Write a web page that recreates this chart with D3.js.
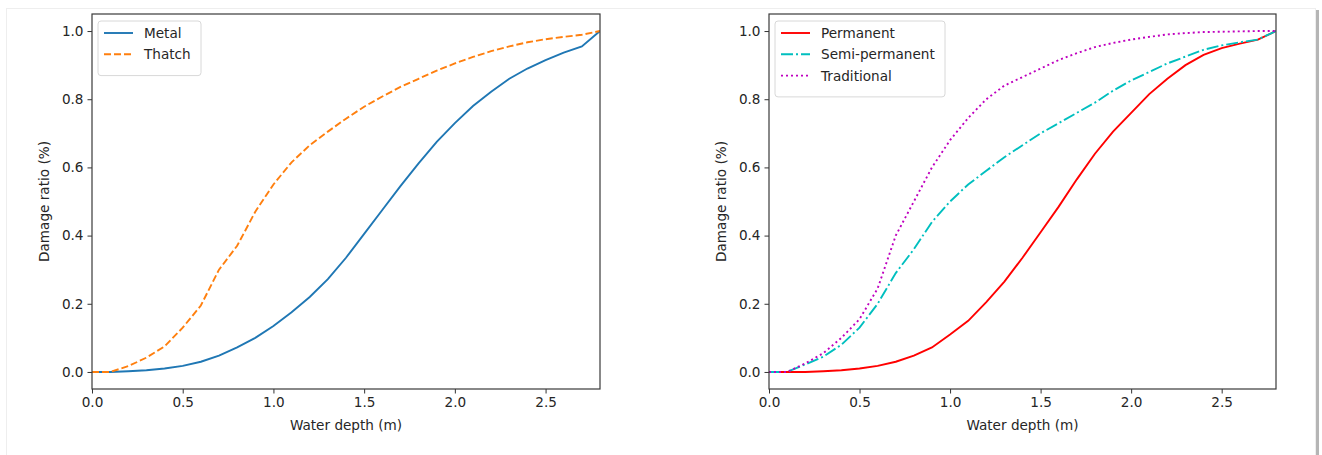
<!DOCTYPE html>
<html>
<head>
<meta charset="utf-8">
<script src="https://cdn.jsdelivr.net/npm/d3@7"></script>
<style>
  body { margin: 0; background: #fff; }
  text { font-family: "DejaVu Sans", sans-serif; fill: #262626; }
</style>
</head>
<body>
<svg id="chart" width="1322" height="455"></svg>
<script>
// water depth (m)
const depth = [0, 0.1, 0.2, 0.3, 0.4, 0.5, 0.6, 0.7, 0.8, 0.9, 1.0, 1.1, 1.2, 1.3, 1.4,
  1.5, 1.6, 1.7, 1.8, 1.9, 2.0, 2.1, 2.2, 2.3, 2.4, 2.5, 2.6, 2.7, 2.8];

// left panel
const metal = [0, 0, 0.002, 0.005, 0.01, 0.018, 0.03, 0.048, 0.072, 0.1, 0.135, 0.175, 0.22, 0.272, 0.335,
  0.405, 0.475, 0.545, 0.612, 0.675, 0.73, 0.78, 0.822, 0.86, 0.89, 0.915, 0.937, 0.955, 1.0];
const thatch = [0, 0, 0.017, 0.042, 0.075, 0.13, 0.195, 0.3, 0.37, 0.47, 0.55, 0.615, 0.665, 0.705, 0.743,
  0.778, 0.808, 0.836, 0.86, 0.884, 0.905, 0.924, 0.941, 0.955, 0.967, 0.976, 0.983, 0.989, 1.0];

// right panel
const permanent = [0, 0, 0, 0.002, 0.005, 0.01, 0.018, 0.03, 0.048, 0.072, 0.11, 0.15, 0.205, 0.265, 0.335,
  0.41, 0.485, 0.565, 0.64, 0.705, 0.76, 0.815, 0.86, 0.9, 0.93, 0.95, 0.963, 0.975, 1.0];
const semiPermanent = [0, 0, 0.022, 0.045, 0.08, 0.13, 0.2, 0.29, 0.36, 0.44, 0.5, 0.55, 0.59, 0.63, 0.665,
  0.7, 0.73, 0.76, 0.79, 0.825, 0.855, 0.88, 0.905, 0.925, 0.945, 0.958, 0.967, 0.975, 1.0];
const traditional = [0, 0, 0.025, 0.055, 0.1, 0.155, 0.245, 0.4, 0.5, 0.6, 0.68, 0.745, 0.8, 0.84, 0.865,
  0.89, 0.915, 0.935, 0.953, 0.965, 0.975, 0.983, 0.99, 0.994, 0.997, 0.998, 0.999, 1.0, 1.0];

const xTicks = [0, 0.5, 1.0, 1.5, 2.0, 2.5];
const yTicks = [0, 0.2, 0.4, 0.6, 0.8, 1.0];

const fontSize = "13.6px";
const svg = d3.select("#chart");

// faint screenshot border and right shadow
svg.append("rect")
  .attr("x", 6.5).attr("y", 8.5).attr("width", 1309).attr("height", 460)
  .attr("fill", "none").attr("stroke", "#eeeeee");
svg.append("rect")
  .attr("x", 1316).attr("y", 10).attr("width", 3).attr("height", 445)
  .attr("fill", "#b5b5b5");

function drawPanel(left, right, series, legendWidth) {
  const top = 14, bottom = 389;

  const x = d3.scaleLinear().domain([0, 2.8]).range([left, right]);
  const y = d3.scaleLinear().domain([-0.05, 1.05]).range([bottom, top]);

  const g = svg.append("g");

  const xAxis = g.append("g")
    .attr("transform", `translate(0,${bottom})`)
    .call(d3.axisBottom(x).tickValues(xTicks).tickFormat(d3.format(".1f")).tickSizeOuter(0).tickSize(4.5).tickPadding(4));
  const yAxis = g.append("g")
    .attr("transform", `translate(${left},0)`)
    .call(d3.axisLeft(y).tickValues(yTicks).tickFormat(d3.format(".1f")).tickSizeOuter(0).tickSize(4.5).tickPadding(4));

  [xAxis, yAxis].forEach(a => {
    a.select(".domain").remove();
    a.selectAll("line").attr("stroke", "#333");
    a.selectAll("text").attr("font-size", fontSize).style("font-family", "DejaVu Sans").attr("fill", "#262626");
  });

  g.append("text")
    .attr("x", (left + right) / 2).attr("y", 430)
    .attr("text-anchor", "middle").attr("font-size", fontSize)
    .text("Water depth (m)");

  g.append("text")
    .attr("transform", `translate(${left - 43},${(top + bottom) / 2}) rotate(-90)`)
    .attr("text-anchor", "middle").attr("font-size", fontSize)
    .text("Damage ratio (%)");

  const clip = "clip" + left;
  g.append("clipPath").attr("id", clip)
    .append("rect").attr("x", left).attr("y", top).attr("width", right - left).attr("height", bottom - top);

  const line = d3.line().x((d, i) => x(depth[i])).y(d => y(d));

  series.forEach(s => {
    g.append("path")
      .datum(s.values)
      .attr("clip-path", `url(#${clip})`)
      .attr("fill", "none")
      .attr("stroke", s.color)
      .attr("stroke-width", 1.9)
      .attr("stroke-dasharray", s.dash)
      .attr("d", line);
  });

  // frame
  g.append("rect")
    .attr("x", left).attr("y", top).attr("width", right - left).attr("height", bottom - top)
    .attr("fill", "none").attr("stroke", "#3a3a3a").attr("stroke-width", 1.2);

  // legend
  const lx = left + 6, ly = top + 7;
  g.append("rect")
    .attr("x", lx).attr("y", ly)
    .attr("width", legendWidth).attr("height", 12 + series.length * 21.3)
    .attr("rx", 3)
    .attr("fill", "#fff").attr("fill-opacity", 0.8)
    .attr("stroke", "#d8d8d8");

  series.forEach((s, i) => {
    const cy = ly + 12 + i * 21.3;
    g.append("line")
      .attr("x1", lx + 6).attr("x2", lx + 35)
      .attr("y1", cy).attr("y2", cy)
      .attr("stroke", s.color).attr("stroke-width", 1.9)
      .attr("stroke-dasharray", s.dash);
    g.append("text")
      .attr("x", lx + 46).attr("y", cy + 5)
      .attr("font-size", fontSize)
      .text(s.name);
  });
}

drawPanel(92, 600, [
  { name: "Metal", values: metal, color: "#1f77b4", dash: null },
  { name: "Thatch", values: thatch, color: "#ff7f0e", dash: "7,3" }
], 103);

drawPanel(769, 1276, [
  { name: "Permanent", values: permanent, color: "#ff0000", dash: null },
  { name: "Semi-permanent", values: semiPermanent, color: "#00bfbf", dash: "12,3,2,3" },
  { name: "Traditional", values: traditional, color: "#bf00bf", dash: "2,3" }
], 170);
</script>
</body>
</html>
